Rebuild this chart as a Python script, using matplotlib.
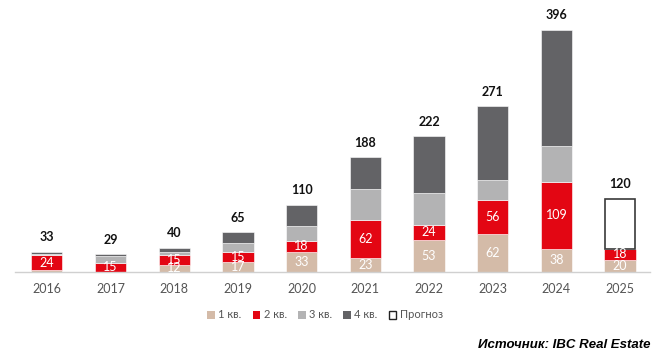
import numpy as np
import matplotlib.pyplot as plt
from matplotlib.patches import Patch

plt.rcParams['font.family'] = ['Lato', 'DejaVu Sans']

years = ['2016', '2017', '2018', '2019', '2020', '2021', '2022', '2023', '2024', '2025']
q1 = np.array([3, 0, 12, 17, 33, 23, 53, 62, 38, 20])
q2 = np.array([24, 15, 15, 15, 18, 62, 24, 56, 109, 18])
q3 = np.array([3, 11, 5, 16, 25, 51, 52, 33, 59, 0])
q4 = np.array([3, 3, 8, 17, 34, 52, 93, 120, 190, 0])
forecast = np.array([0, 0, 0, 0, 0, 0, 0, 0, 0, 82])
totals = [33, 29, 40, 65, 110, 188, 222, 271, 396, 120]
labels_q1 = [None, None, 12, 17, 33, 23, 53, 62, 38, 20]
labels_q2 = [24, 15, 15, 15, 18, 62, 24, 56, 109, 18]

c1, c2, c3, c4 = '#d4bba8', '#e30613', '#b3b3b4', '#636366'

fig = plt.figure(figsize=(6.65, 3.55), dpi=100)
ax = fig.add_axes([15 / 665, (355 - 272) / 355, 635 / 665, 269 / 355])

x = np.arange(len(years))
w = 0.49
ax.bar(x, q1, w, color=c1, edgecolor='white', linewidth=0.4)
ax.bar(x, q2, w, bottom=q1, color=c2, edgecolor='white', linewidth=0.4)
ax.bar(x, q3, w, bottom=q1 + q2, color=c3, edgecolor='white', linewidth=0.4)
ax.bar(x, q4, w, bottom=q1 + q2 + q3, color=c4, edgecolor='white', linewidth=0.4)
fc = forecast > 0
ax.bar(x[fc], forecast[fc], w * 0.97, bottom=(q1 + q2)[fc], color='white',
       edgecolor='#3a3a3a', linewidth=1.2)

for i in range(len(years)):
    if labels_q1[i] is not None:
        ax.text(x[i], q1[i] / 2, str(labels_q1[i]), ha='center', va='center',
                color='white', fontsize=9)
    ax.text(x[i], q1[i] + q2[i] / 2, str(labels_q2[i]), ha='center', va='center',
            color='white', fontsize=9)
    ax.text(x[i], totals[i] + 14, str(totals[i]), ha='center', va='bottom',
            color='#111111', fontsize=9, fontweight='bold')

ax.set_xlim(-0.5, 9.47)
ax.set_ylim(0, 440)
ax.set_xticks(x)
ax.set_xticklabels(years, color='#555555', fontsize=9)
ax.tick_params(axis='x', length=0, pad=8)
ax.set_yticks([])
for s in ['top', 'right', 'left']:
    ax.spines[s].set_visible(False)
ax.spines['bottom'].set_color('#d0d0d0')
ax.spines['bottom'].set_linewidth(1)

handles = [Patch(facecolor=c1), Patch(facecolor=c2), Patch(facecolor=c3),
           Patch(facecolor=c4), Patch(facecolor='white', edgecolor='#222222')]
names = ['1 кв.', '2 кв.', '3 кв.', '4 кв.', 'Прогноз']
leg = fig.legend(handles, names, loc='center', bbox_to_anchor=(325 / 665, 1 - 315 / 355),
                 ncol=5, frameon=False, fontsize=8, handlelength=0.7, handleheight=0.7,
                 handletextpad=0.3, columnspacing=1.0)
for t in leg.get_texts():
    t.set_color('#555555')

fig.text(651 / 665, 1 - 345 / 355, 'Источник: IBC Real Estate', ha='right', va='center',
         fontsize=9.5, fontweight='bold', fontstyle='italic', family='Liberation Sans')

fig.savefig('out.png', dpi=100)
